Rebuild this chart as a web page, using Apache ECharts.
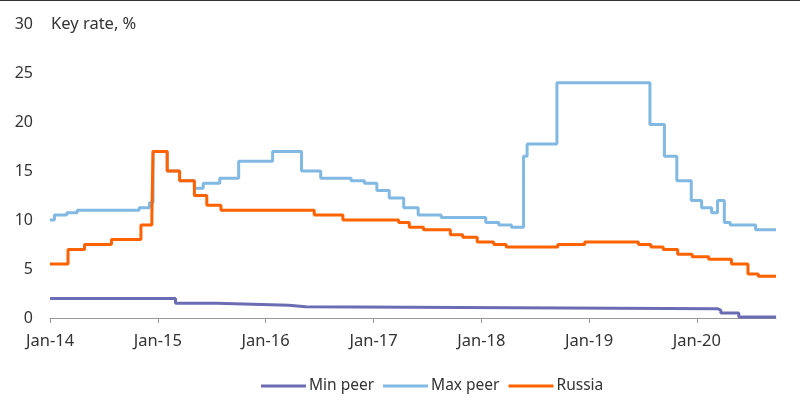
<!DOCTYPE html>
<html style="height: 100%">
<head>
<meta charset="utf-8">
<script src="https://cdn.jsdelivr.net/npm/echarts@6/dist/echarts.min.js"></script>
<title>Key rate</title>
</head>
<body style="height: 100%; margin: 0; background: #fff">
<div id="container" style="width: 800px; height: 414px"></div>
<script type="text/javascript">

// step changes: date the rate took effect, rate in %
let minPeerDates = ['2014-01-01', '2015-03-02', '2015-07-19', '2016-03-19', '2016-05-16',
    '2020-03-10', '2020-03-22', '2020-05-22', '2020-09-25'];
let minPeerRates = [2.0, 1.5, 1.3, 1.15, 0.95, 0.8, 0.5, 0.1, 0.1];

let maxPeerDates = ['2014-01-01', '2014-01-16', '2014-02-27', '2014-04-03', '2014-10-30',
    '2014-12-04', '2014-12-16', '2015-02-02', '2015-03-16', '2015-05-05', '2015-06-04',
    '2015-07-30', '2015-10-02', '2016-01-25', '2016-05-02', '2016-07-06', '2016-10-17',
    '2016-12-01', '2017-01-12', '2017-02-23', '2017-04-13', '2017-06-01', '2017-08-18',
    '2018-01-16', '2018-03-01', '2018-04-13', '2018-05-24', '2018-06-05', '2018-09-14',
    '2019-07-26', '2019-09-13', '2019-10-25', '2019-12-13', '2020-01-17', '2020-02-20',
    '2020-03-11', '2020-04-03', '2020-04-23', '2020-07-18', '2020-09-25'];
let maxPeerRates = [10.0, 10.5, 10.75, 11.0, 11.25,
    11.75, 17.0, 15.0, 14.0, 13.25, 13.75,
    14.25, 16.0, 17.0, 15.0, 14.25, 14.0,
    13.75, 13.0, 12.25, 11.25, 10.5, 10.25,
    9.75, 9.5, 9.25, 16.5, 17.75, 24.0,
    19.75, 16.5, 14.0, 12.0, 11.25, 10.75,
    12.0, 9.75, 9.5, 9.0, 9.0];

let russiaDates = ['2014-01-01', '2014-03-03', '2014-04-28', '2014-07-28', '2014-11-05',
    '2014-12-12', '2014-12-16', '2015-02-02', '2015-03-16', '2015-05-05', '2015-06-16',
    '2015-08-03', '2016-06-14', '2016-09-19', '2017-03-27', '2017-05-02', '2017-06-19',
    '2017-09-18', '2017-10-30', '2017-12-18', '2018-02-12', '2018-03-26', '2018-09-17',
    '2018-12-17', '2019-06-17', '2019-07-29', '2019-09-09', '2019-10-28', '2019-12-16',
    '2020-02-10', '2020-04-27', '2020-06-22', '2020-07-27', '2020-09-25'];
let russiaRates = [5.5, 7.0, 7.5, 8.0, 9.5,
    10.5, 17.0, 15.0, 14.0, 12.5, 11.5,
    11.0, 10.5, 10.0, 9.75, 9.25, 9.0,
    8.5, 8.25, 7.75, 7.5, 7.25, 7.5,
    7.75, 7.5, 7.25, 7.0, 6.5, 6.25,
    6.0, 5.5, 4.5, 4.25, 4.25];

let seriesNames = ['Min peer', 'Max peer', 'Russia'];
let seriesColors = ['#6c6cb4', '#82b9e3', '#ff6200'];

function pairs(dates, rates) {
    return dates.map((d, i) => [d, rates[i]]);
}

let font = 'Noto Sans';
let dom = document.getElementById('container');
let chart = echarts.init(dom);
chart.setOption({
    animation: false,
    textStyle: { fontFamily: font },
    title: {
        text: 'Key rate, %',
        left: 46,
        top: 11,
        textStyle: { fontFamily: font, fontSize: 16.5, fontWeight: 'normal', color: '#333' }
    },
    graphic: [{
        type: 'rect',
        shape: { x: 0, y: 0, width: 800, height: 1 },
        style: { fill: '#333' }
    }],
    legend: {
        data: seriesNames,
        left: 256,
        top: 373,
        icon: 'rect',
        itemWidth: 45,
        itemHeight: 3,
        itemGap: 9,
        textStyle: { fontFamily: font, fontSize: 15.5, color: '#333', padding: [0, 0, 0, -2] }
    },
    grid: { left: 50, right: 24, top: 24, bottom: 96 },
    xAxis: {
        type: 'time',
        min: '2014-01-01',
        max: '2020-09-25',
        minInterval: 3600 * 24 * 1000 * 365,
        maxInterval: 3600 * 24 * 1000 * 366,
        axisLine: { lineStyle: { color: '#999', width: 1 } },
        axisTick: { show: true, length: 5, lineStyle: { color: '#999' } },
        splitLine: { show: false },
        axisLabel: {
            fontFamily: font,
            fontSize: 16.5,
            color: '#333',
            margin: 15,
            formatter: function (v) {
                let d = new Date(v);
                return 'Jan-' + String(d.getFullYear()).slice(2);
            }
        }
    },
    yAxis: {
        type: 'value',
        min: 0,
        max: 30,
        interval: 5,
        axisLine: { show: false },
        axisTick: { show: false },
        splitLine: { show: false },
        axisLabel: { fontFamily: font, fontSize: 16, color: '#333', margin: 17 }
    },
    series: [
        { name: seriesNames[0], data: pairs(minPeerDates, minPeerRates) },
        { name: seriesNames[1], data: pairs(maxPeerDates, maxPeerRates) },
        { name: seriesNames[2], data: pairs(russiaDates, russiaRates) }
    ].map((s, i) => Object.assign(s, {
        type: 'line',
        step: 'end',
        symbol: 'none',
        color: seriesColors[i],
        lineStyle: { width: 3, color: seriesColors[i] }
    }))
});

</script>
</body>
</html>
